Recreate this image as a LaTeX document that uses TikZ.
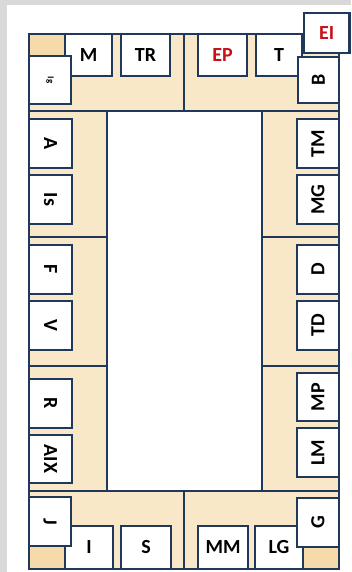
\documentclass[tikz,border=0pt]{standalone}
\usepackage{fontspec}
\setmainfont{Carlito}
\definecolor{navy}{RGB}{32,56,92}
\definecolor{beige}{RGB}{249,232,200}
\definecolor{beigedark}{RGB}{246,219,170}
\definecolor{bggray}{RGB}{217,217,217}
\definecolor{redtxt}{RGB}{200,16,24}
\tikzset{
  seat/.style={draw=navy, line width=2.8pt, fill=white, inner sep=0pt,
    font=\fontsize{20}{20}\selectfont\bfseries, text=black},
  wall/.style={draw=navy, line width=2.8pt},
}
\newcommand{\seatbox}[6]{%
  \node[seat, minimum width={(#4-#2)*1pt}, minimum height={(#5-#3)*1pt}]
    (#1) at ({(#2+#4)/2},{(#3+#5)/2}) {#6};}
\newcommand{\rl}[1]{\rotatebox{-90}{#1}}
\newcommand{\rr}[1]{\rotatebox{90}{#1}}
\begin{document}
\begin{tikzpicture}[x=1pt,y=-1pt]
\useasboundingbox (0,0) rectangle (351,572);
\fill[bggray] (0,0) rectangle (351,572);
\fill[white] (7,5) rectangle (351,572);
% table frame
\fill[beige] (29,34) rectangle (339,569);
\fill[beigedark] (29,34) rectangle (65,56);
\fill[beigedark] (29,546) rectangle (65,569);
\fill[beigedark] (303,547) rectangle (339,569);
\fill[white] (107,111) rectangle (262,491);
\coordinate (tl) at (29,34);
\coordinate (br) at (339,569);
\draw[wall] (tl) rectangle (br);
\draw[wall] (29,111) -- (339,111);
\draw[wall] (29,491) -- (339,491);
\draw[wall] (107,111) -- (107,491);
\draw[wall] (262,111) -- (262,491);
\draw[wall] (184,34) -- (184,111);
\draw[wall] (184,491) -- (184,569);
\draw[wall] (29,237) -- (107,237);
\draw[wall] (29,366) -- (107,366);
\draw[wall] (262,237) -- (339,237);
\draw[wall] (262,366) -- (339,366);
% top row
\seatbox{M}{65}{34}{112}{76}{M}
\seatbox{TR}{121}{34}{170}{76}{TR}
\seatbox{EP}{198}{34}{247}{76}{\textcolor{redtxt}{EP}}
\seatbox{T}{256}{34}{302}{76}{T}
\seatbox{EI}{304}{13}{349.5}{53}{\textcolor{redtxt}{EI}}
\seatbox{B}{298}{57}{339}{103}{\rr{B}}
\seatbox{Ig}{29}{56}{71}{104}{\rl{\fontsize{9}{9}\selectfont Ig}}
% left column
\seatbox{A}{29}{119}{72}{168}{\rl{A}}
\seatbox{Is}{29}{175}{72}{224}{\rl{Is}}
\seatbox{F}{29}{245}{72}{294}{\rl{F}}
\seatbox{V}{29}{301}{72}{350}{\rl{V}}
\seatbox{R}{29}{379}{72}{428}{\rl{R}}
\seatbox{AIX}{29}{435}{72}{483}{\rl{AIX}}
% right column
\seatbox{TM}{297}{119}{339}{168}{\rr{TM}}
\seatbox{MG}{297}{175}{339}{224}{\rr{MG}}
\seatbox{D}{297}{245}{339}{294}{\rr{D}}
\seatbox{TD}{297}{301}{339}{350}{\rr{TD}}
\seatbox{MP}{297}{373}{339}{421}{\rr{MP}}
\seatbox{LM}{297}{428}{339}{477}{\rr{LM}}
% bottom row
\seatbox{I}{65}{526}{113}{569}{I}
\seatbox{S}{121}{526}{171}{569}{S}
\seatbox{MM}{198}{526}{248}{569}{MM}
\seatbox{LG}{255}{526}{303}{569}{LG}
\seatbox{J}{29}{497}{71}{546}{\rl{J}}
\seatbox{G}{297}{498}{339}{547}{\rr{G}}
\end{tikzpicture}
\end{document}
